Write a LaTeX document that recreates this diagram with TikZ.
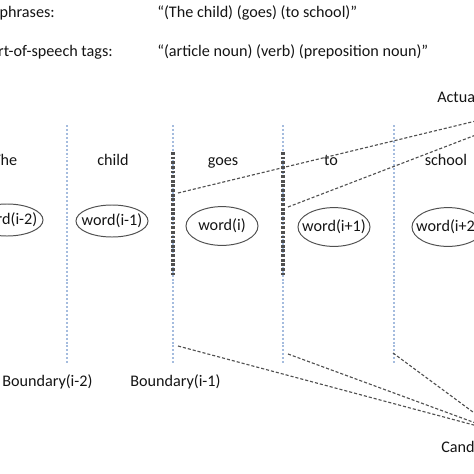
\documentclass[tikz,border=0pt]{standalone}
\usepackage{fontspec}
\setmainfont{Carlito}
\usepackage{xcolor}
\usepackage{tikz}
\usetikzlibrary{shapes.geometric}

\definecolor{bndblue}{RGB}{165,188,222}
\definecolor{dashgray}{RGB}{80,80,80}
\definecolor{txtgray}{RGB}{20,20,20}

\begin{document}
\begin{tikzpicture}[x=0.025cm, y=-0.025cm,
  txt/.style={font=\fontsize{11.5}{14}\selectfont, text=txtgray, inner sep=0pt},
  wordell/.style={txt, draw=dashgray, ellipse, line width=0.7pt, inner xsep=-5pt, inner ysep=0pt, minimum width=1.8cm, minimum height=0.97cm},
  bnd/.style={draw=bndblue, line width=0.8pt, dash pattern=on 1.4pt off 1.4pt},
  actual/.style={draw=dashgray, line width=2.6pt, dash pattern=on 2pt off 1.3pt},
  link/.style={draw=dashgray, line width=0.8pt, dash pattern=on 2.2pt off 1.4pt}
]
\useasboundingbox (0,0) rectangle (474,474);
\clip (0,0) rectangle (474,474);

\node[txt, anchor=base east] (phr) at (55,17) {phrases:};
\node[txt, anchor=base west] (phrval) at (157,17) {“(The child) (goes) (to school)”};
\node[txt, anchor=base east] (pos) at (113,56) {Part-of-speech tags:};
\node[txt, anchor=base west] (posval) at (157,56) {“(article noun) (verb) (preposition noun)”};

% boundaries
\foreach \x [count=\i] in {67,173,283,394} {
  \coordinate (b\i top) at (\x,125);
  \coordinate (b\i bot) at (\x,363);
  \draw[bnd] (b\i top) -- (b\i bot);
}
\draw[actual] (173,152) -- (173,276);
\draw[actual] (283,152) -- (283,276);

% words
\node[txt, anchor=base] (w1) at (5,165) {The};
\node[txt, anchor=base] (w2) at (113,165) {child};
\node[txt, anchor=base] (w3) at (223,165) {goes};
\node[txt, anchor=base] (w4) at (331,165) {to};
\node[txt, anchor=base] (w5) at (446,165) {school};

\node[wordell, minimum height=0.8cm] (e1) at (7,220) {word(i-2)};
\node[wordell, minimum height=0.8cm] (e2) at (112,221) {word(i-1)};
\node[wordell] (e3) at (222,226) {word(i)};
\node[wordell] (e4) at (334,227) {word(i+1)};
\node[wordell] (e5) at (448,227) {word(i+2)};

\node[txt, anchor=base west] (bl1) at (2,386) {Boundary(i-2)};
\node[txt, anchor=base west] (bl2) at (130,386) {Boundary(i-1)};

\node[txt, anchor=west] (actlbl) at (437,97) {Actual};
\node[txt, anchor=west] (candlbl) at (441,447) {Candidate};

\coordinate (act) at (575,97);
\coordinate (cand) at (500,432);
\coordinate (a1) at (178,193);
\coordinate (a2) at (288,207);
\coordinate (c1) at (178,346);
\coordinate (c2) at (288,354);
\coordinate (c3) at (393,353);

\draw[link] (a1) -- (act);
\draw[link] (a2) -- (act);
\draw[link] (c1) -- (cand);
\draw[link] (c2) -- (cand);
\draw[link] (c3) -- (cand);
\end{tikzpicture}
\end{document}
